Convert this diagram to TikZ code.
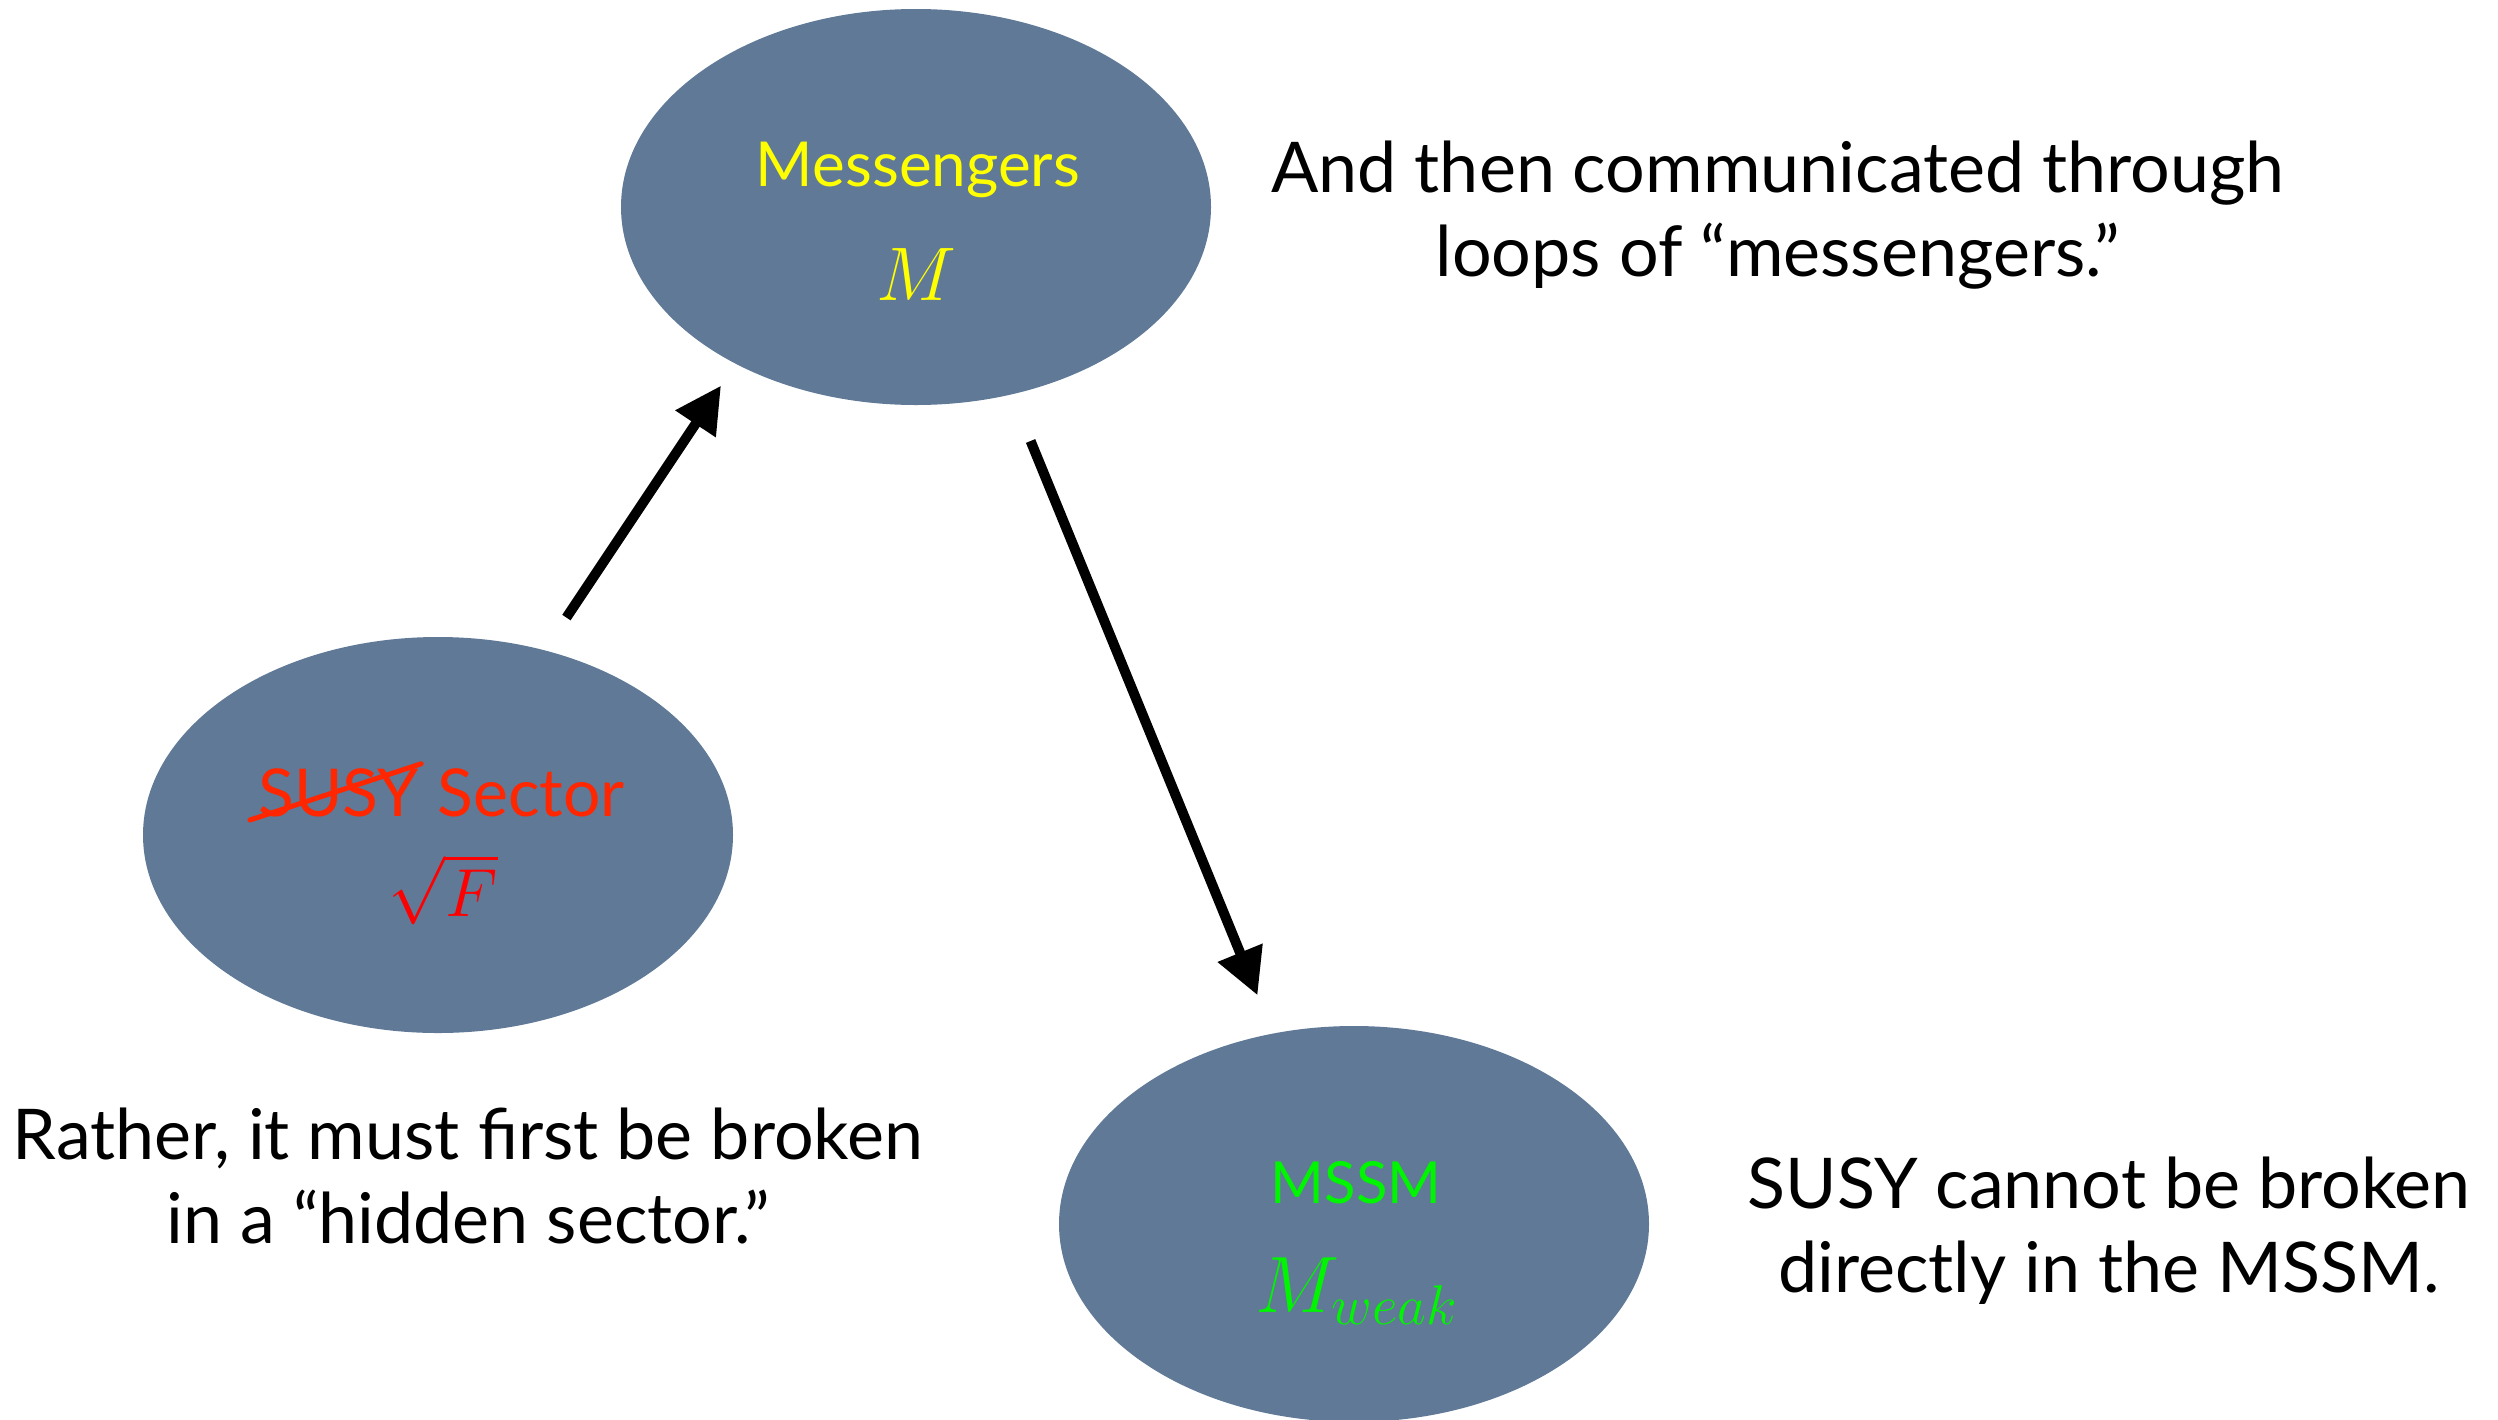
\RequirePackage{fix-cm}
\documentclass[tikz,border=0pt]{standalone}
\usepackage{fontspec}
\setmainfont{Lato}
\usetikzlibrary{shapes.geometric,arrows.meta}
\definecolor{blob}{RGB}{95,121,151}
\definecolor{susyred}{RGB}{255,38,0}
\definecolor{msgyellow}{RGB}{255,255,0}
\definecolor{mssmgreen}{RGB}{0,245,0}
\begin{document}
\begin{tikzpicture}[x=0.5pt,y=-0.5pt,
  blobnode/.style={ellipse, fill=blob, draw=none, inner sep=0pt,
    minimum width=295pt, minimum height=198pt},
  caption/.style={font=\fontsize{35}{42}\selectfont, align=center, inner sep=0pt, anchor=base},
  inlabel/.style={inner sep=0pt, anchor=base},
  mathlabel/.style={inner sep=0pt, anchor=base},
  flow/.style={line width=5pt, -{Triangle[length=23pt,width=23pt]}}]
\useasboundingbox (0,0) rectangle (2498,1419);

% the three sectors
\node[blobnode] (msg)  at (916,207)  {};
\node[blobnode] (sus)  at (438,835)  {};
\node[blobnode] (mssm) at (1354,1224) {};

% labels inside the sectors
\node[inlabel, font=\fontsize{31}{38}\selectfont, text=msgyellow] (msgname) at (918,186) {Messengers};
\node[mathlabel, font=\fontsize{38}{44}\selectfont, text=msgyellow] (msgscale) at (916,300) {$M$};

\node[inlabel, font=\fontsize{33}{40}\selectfont, text=susyred, anchor=base west] (susyword) at (258,816) {SUSY};
\node[inlabel, font=\fontsize{33}{40}\selectfont, text=susyred, anchor=base west] (sectorword)
  at ([xshift=9pt]susyword.base east) {Sector};
\draw[susyred, line width=2.5pt, line cap=round]
  ([xshift=-4pt,yshift=-2pt]susyword.base west) -- ([xshift=1pt,yshift=2pt]susyword.north east);
\node[mathlabel, font=\fontsize{34}{40}\selectfont, text=red] (susyscale) at (443,916) {$\sqrt{F}$};

\node[inlabel, font=\fontsize{29}{36}\selectfont, text=mssmgreen] (mssmname) at (1356,1203) {MSSM};
\node[mathlabel, font=\fontsize{40}{46}\selectfont, text=mssmgreen] (mssmscale) at (1357,1312) {$M_{weak}$};

% flow of SUSY breaking
\draw[flow, shorten <=19.5pt, shorten >=13pt] (sus.60) -- (msg.221);
\draw[flow, shorten <=25pt, shorten >=20.5pt] (msg.297) -- (mssm.113);

% explanatory captions (anchored at the baseline of their last line)
\node[caption] (capmsg) at (1778,276) {And then communicated through\\loops of “messengers.”};
\node[caption] (capsus) at (468,1243) {Rather, it must first be broken\\in a “hidden sector.”};
\node[caption] (capmssm) at (2109,1292) {SUSY cannot be broken\\directly in the MSSM.};
\end{tikzpicture}
\end{document}
